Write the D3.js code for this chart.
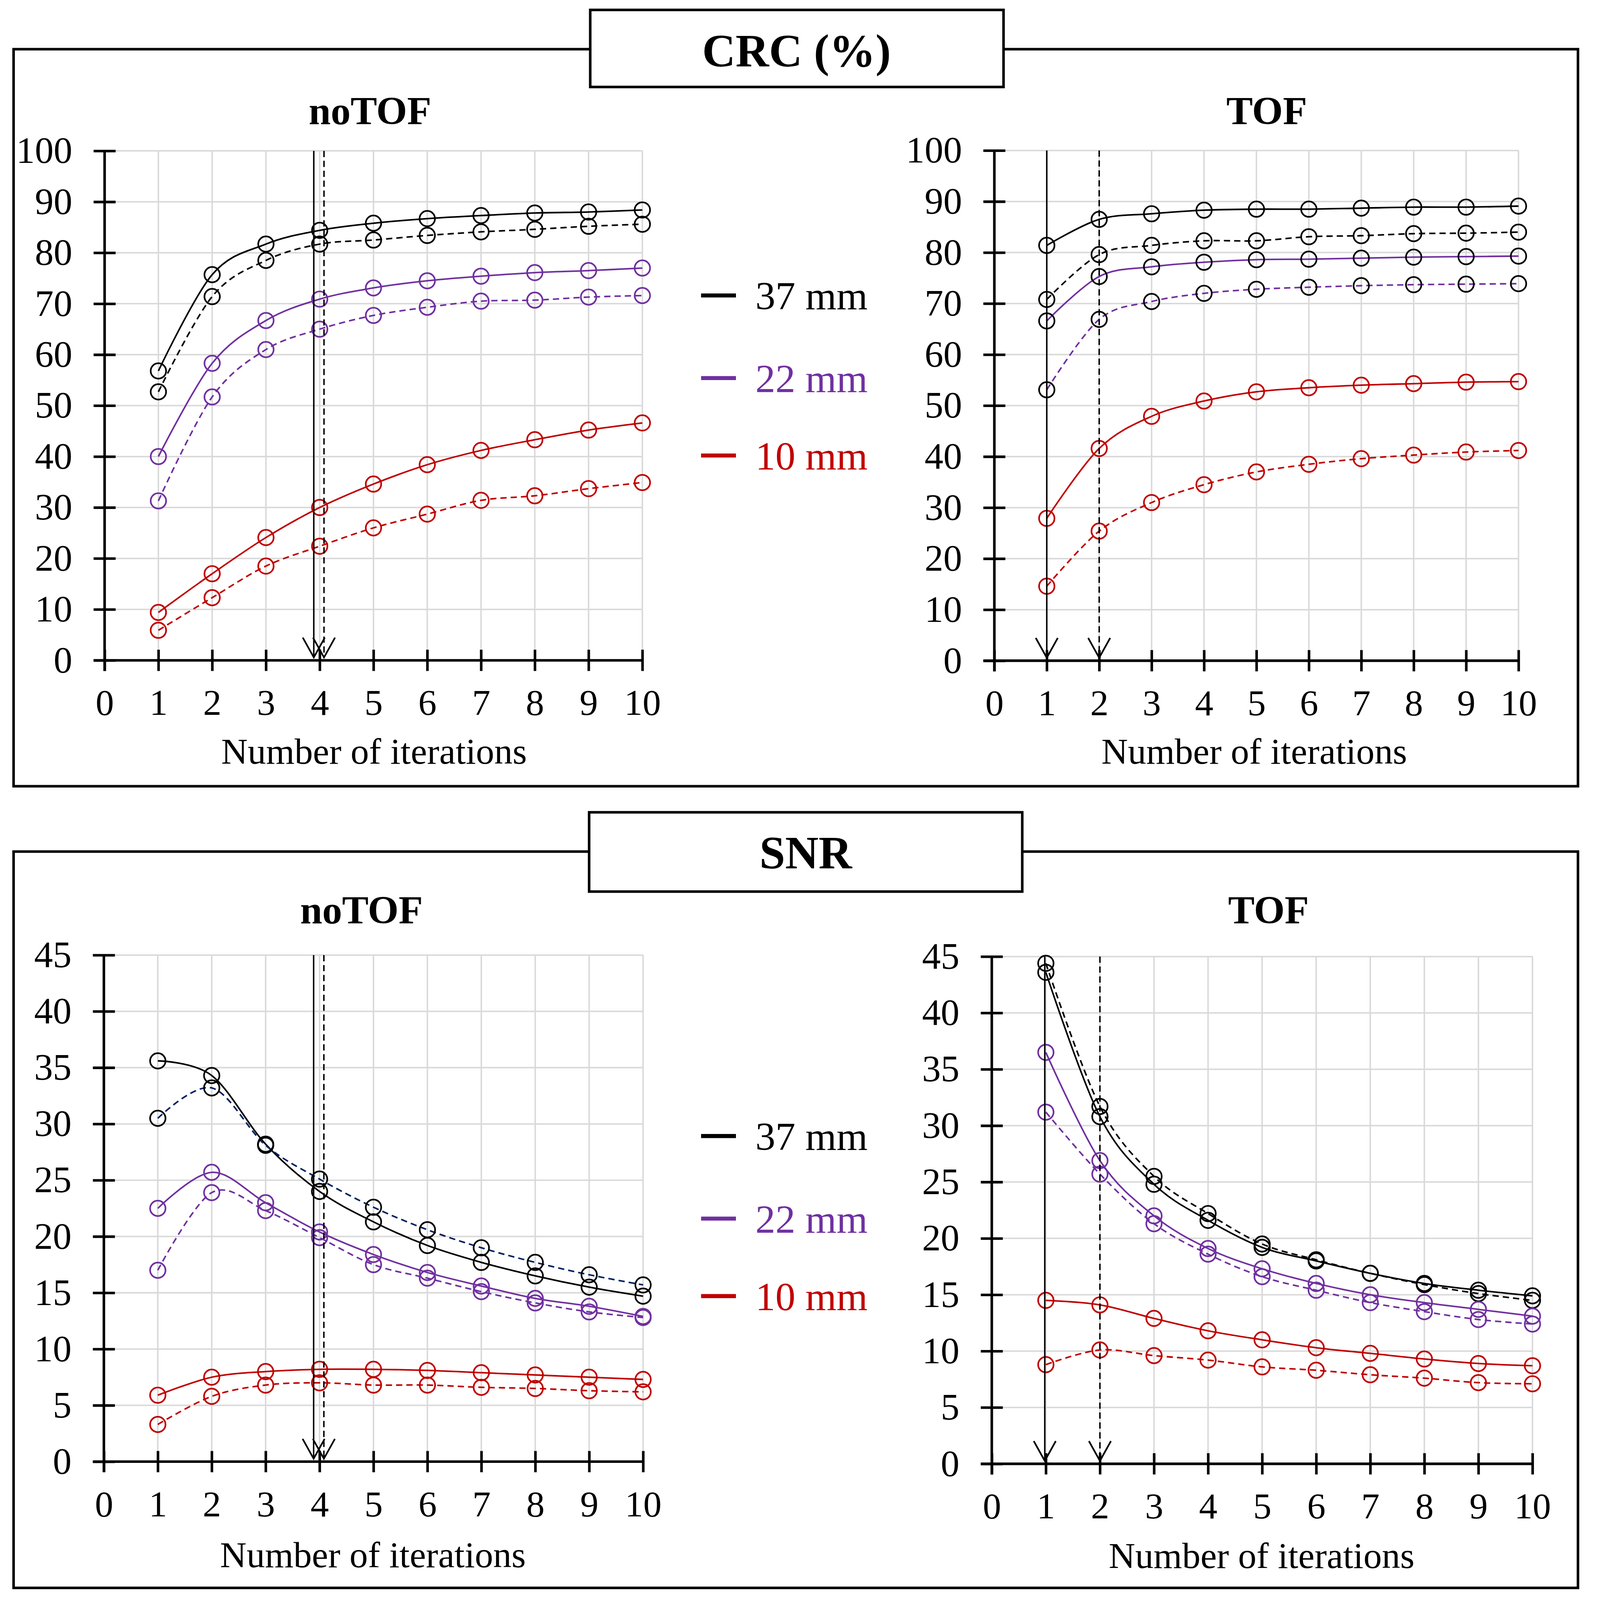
<!DOCTYPE html>
<html>
<head>
<meta charset="utf-8">
<style>
  html, body { margin: 0; padding: 0; background: #fff; overflow: hidden; }
  svg { display: block; width: 100vw; height: 100vh; }
  text { font-family: "Liberation Serif", "Times New Roman", serif; }
</style>
</head>
<body>
<script src="https://d3js.org/d3.v7.min.js"></script>
<script>
  // ---- data ----
  const iterations = [1, 2, 3, 4, 5, 6, 7, 8, 9, 10]
  const xTickValues = [0, 1, 2, 3, 4, 5, 6, 7, 8, 9, 10]
  const crcTickValues = [0, 10, 20, 30, 40, 50, 60, 70, 80, 90, 100]
  const snrTickValues = [0, 5, 10, 15, 20, 25, 30, 35, 40, 45]
  const sizeLabels = ['37 mm', '22 mm', '10 mm']

  // CRC (%) - noTOF (solid / dashed)
  const crcNoTof37 = [56.8, 75.7, 81.7, 84.4, 85.8, 86.7, 87.3, 87.8, 88.0, 88.4]
  const crcNoTof37Dash = [52.7, 71.4, 78.5, 81.7, 82.5, 83.4, 84.1, 84.6, 85.2, 85.6]
  const crcNoTof22 = [40.0, 58.3, 66.7, 70.9, 73.1, 74.5, 75.4, 76.1, 76.5, 77.0]
  const crcNoTof22Dash = [31.3, 51.7, 61.0, 65.0, 67.7, 69.3, 70.5, 70.7, 71.3, 71.6]
  const crcNoTof10 = [9.4, 17.0, 24.1, 30.0, 34.6, 38.4, 41.2, 43.3, 45.2, 46.6]
  const crcNoTof10Dash = [5.9, 12.3, 18.5, 22.4, 26.0, 28.7, 31.4, 32.3, 33.7, 34.9]

  // CRC (%) - TOF
  const crcTof37 = [81.4, 86.5, 87.6, 88.3, 88.5, 88.5, 88.7, 88.9, 88.9, 89.1]
  const crcTof37Dash = [70.8, 79.6, 81.4, 82.3, 82.3, 83.1, 83.3, 83.7, 83.8, 84.0]
  const crcTof22 = [66.6, 75.3, 77.2, 78.1, 78.6, 78.7, 78.9, 79.1, 79.2, 79.3]
  const crcTof22Dash = [53.1, 66.9, 70.4, 72.0, 72.8, 73.2, 73.5, 73.7, 73.8, 73.9]
  const crcTof10 = [27.9, 41.6, 47.9, 50.9, 52.7, 53.5, 54.0, 54.3, 54.6, 54.7]
  const crcTof10Dash = [14.6, 25.4, 31.0, 34.5, 37.0, 38.5, 39.6, 40.3, 40.9, 41.2]

  // SNR - noTOF
  const snrNoTof37 = [35.6, 34.3, 28.2, 24.0, 21.3, 19.2, 17.7, 16.5, 15.5, 14.7]
  const snrNoTof37Dash = [30.5, 33.2, 28.1, 25.1, 22.6, 20.6, 19.0, 17.7, 16.6, 15.7]
  const snrNoTof22 = [22.5, 25.7, 23.0, 20.4, 18.4, 16.8, 15.6, 14.5, 13.8, 12.9]
  const snrNoTof22Dash = [17.0, 23.9, 22.3, 19.9, 17.5, 16.3, 15.1, 14.1, 13.3, 12.8]
  const snrNoTof10 = [5.9, 7.5, 8.0, 8.2, 8.2, 8.1, 7.9, 7.7, 7.5, 7.3]
  const snrNoTof10Dash = [3.3, 5.8, 6.8, 7.0, 6.8, 6.8, 6.6, 6.5, 6.3, 6.2]

  // SNR - TOF
  const snrTof37 = [43.6, 30.8, 24.8, 21.6, 19.2, 18.0, 16.9, 16.0, 15.4, 14.9]
  const snrTof37Dash = [44.4, 31.7, 25.5, 22.2, 19.5, 18.1, 16.9, 15.9, 15.1, 14.5]
  const snrTof22 = [36.5, 26.9, 22.0, 19.1, 17.3, 16.0, 15.0, 14.3, 13.7, 13.1]
  const snrTof22Dash = [31.2, 25.7, 21.3, 18.6, 16.6, 15.4, 14.3, 13.5, 12.8, 12.4]
  const snrTof10 = [14.5, 14.1, 12.9, 11.8, 11.0, 10.3, 9.8, 9.3, 8.9, 8.7]
  const snrTof10Dash = [8.8, 10.1, 9.6, 9.2, 8.6, 8.3, 7.9, 7.6, 7.2, 7.1]

  // chosen iteration markers (solid, dashed)
  const noTofArrows = [3.89, 4.08]
  const tofArrows = [1.0, 2.0]
  const snrTofArrows = [0.98, 2.0]

  // ---- styles ----
  const BLACK = '#000000'
  const PURPLE = '#7030A0'
  const RED = '#C00000'
  const NAVY = '#002060'
  const GRID = '#d9d9d9'
  const DASH = '17,11'

  const svg = d3.select('body').append('svg')
    .attr('viewBox', '0 0 4325 4359')
    .attr('preserveAspectRatio', 'xMinYMin meet')

  // outer frames and title boxes
  function frame(x, y, w, h, fill) {
    svg.append('rect')
      .attr('x', x).attr('y', y).attr('width', w).attr('height', h)
      .attr('fill', fill).attr('stroke', BLACK).attr('stroke-width', 7)
  }
  frame(37, 134, 4262, 2008, 'none')
  frame(37, 2320, 4262, 2006, 'none')
  frame(1608, 27, 1126, 210, '#fff')
  frame(1605, 2213, 1180, 216, '#fff')

  svg.append('text').attr('x', 2170).attr('y', 181)
    .attr('text-anchor', 'middle').attr('font-size', 126).attr('font-weight', 'bold')
    .text('CRC (%)')
  svg.append('text').attr('x', 2195).attr('y', 2366)
    .attr('text-anchor', 'middle').attr('font-size', 126).attr('font-weight', 'bold')
    .text('SNR')

  const panels = [
    {
      xr: [285, 1750], yr: [1799, 411], yMax: 100, yTicks: crcTickValues,
      title: 'noTOF', tx: 1008, ty: 338, lx: 1019, ly: 2080, arrows: noTofArrows,
      series: [
        { v: crcNoTof37, line: BLACK, mark: BLACK },
        { v: crcNoTof37Dash, line: BLACK, mark: BLACK, dash: true },
        { v: crcNoTof22, line: PURPLE, mark: PURPLE },
        { v: crcNoTof22Dash, line: PURPLE, mark: PURPLE, dash: true },
        { v: crcNoTof10, line: RED, mark: RED },
        { v: crcNoTof10Dash, line: RED, mark: RED, dash: true }
      ]
    },
    {
      xr: [2709, 4137], yr: [1800, 410], yMax: 100, yTicks: crcTickValues,
      title: 'TOF', tx: 3451, ty: 338, lx: 3417, ly: 2080, arrows: tofArrows,
      series: [
        { v: crcTof37, line: BLACK, mark: BLACK },
        { v: crcTof37Dash, line: BLACK, mark: BLACK, dash: true },
        { v: crcTof22, line: PURPLE, mark: BLACK },
        { v: crcTof22Dash, line: PURPLE, mark: BLACK, dash: true },
        { v: crcTof10, line: RED, mark: RED },
        { v: crcTof10Dash, line: RED, mark: RED, dash: true }
      ]
    },
    {
      xr: [283, 1752], yr: [3982, 2602], yMax: 45, yTicks: snrTickValues,
      title: 'noTOF', tx: 985, ty: 2516, lx: 1016, ly: 4270, arrows: noTofArrows,
      series: [
        { v: snrNoTof37, line: BLACK, mark: BLACK },
        { v: snrNoTof37Dash, line: NAVY, mark: BLACK, dash: true },
        { v: snrNoTof22, line: PURPLE, mark: PURPLE },
        { v: snrNoTof22Dash, line: PURPLE, mark: PURPLE, dash: true },
        { v: snrNoTof10, line: RED, mark: RED },
        { v: snrNoTof10Dash, line: RED, mark: RED, dash: true }
      ]
    },
    {
      xr: [2702, 4175], yr: [3988, 2606], yMax: 45, yTicks: snrTickValues,
      title: 'TOF', tx: 3456, ty: 2516, lx: 3437, ly: 4272, arrows: snrTofArrows,
      series: [
        { v: snrTof37, line: BLACK, mark: BLACK },
        { v: snrTof37Dash, line: BLACK, mark: BLACK, dash: true },
        { v: snrTof22, line: PURPLE, mark: PURPLE },
        { v: snrTof22Dash, line: PURPLE, mark: PURPLE, dash: true },
        { v: snrTof10, line: RED, mark: RED },
        { v: snrTof10Dash, line: RED, mark: RED, dash: true }
      ]
    }
  ]

  panels.forEach(p => {
    const x = d3.scaleLinear().domain([0, 10]).range(p.xr)
    const y = d3.scaleLinear().domain([0, p.yMax]).range(p.yr)
    const g = svg.append('g')

    // gridlines
    g.append('g').selectAll('line').data(p.yTicks.filter(t => t > 0))
      .enter().append('line')
      .attr('x1', x(0)).attr('x2', x(10))
      .attr('y1', d => y(d)).attr('y2', d => y(d))
      .attr('stroke', GRID).attr('stroke-width', 4)
    g.append('g').selectAll('line').data(iterations)
      .enter().append('line')
      .attr('x1', d => x(d)).attr('x2', d => x(d))
      .attr('y1', y(0)).attr('y2', y(p.yMax))
      .attr('stroke', GRID).attr('stroke-width', 4)

    // axes with crossing ticks
    const yAxis = g.append('g')
      .attr('transform', `translate(${x(0)},0)`)
      .call(d3.axisLeft(y).tickValues(p.yTicks).tickSize(30).tickPadding(58))
    yAxis.select('.domain').remove()
    yAxis.selectAll('.tick line').attr('x1', 30).attr('stroke-width', 7)
    yAxis.selectAll('.tick text').attr('font-size', 102)
      .attr('font-family', '"Liberation Serif", "Times New Roman", serif')
    yAxis.attr('font-family', null).attr('font-size', null)

    const xAxis = g.append('g')
      .attr('transform', `translate(0,${y(0)})`)
      .call(d3.axisBottom(x).tickValues(xTickValues).tickSize(29).tickPadding(49))
    xAxis.select('.domain').remove()
    xAxis.selectAll('.tick line').attr('y1', -29).attr('stroke-width', 7)
    xAxis.selectAll('.tick text').attr('font-size', 100)
      .attr('font-family', '"Liberation Serif", "Times New Roman", serif')
    xAxis.attr('font-family', null).attr('font-size', null)

    g.append('line')
      .attr('x1', x(0)).attr('x2', x(0))
      .attr('y1', y(p.yMax)).attr('y2', y(0) + 29)
      .attr('stroke', BLACK).attr('stroke-width', 7)
    g.append('line')
      .attr('x1', x(0) - 30).attr('x2', x(10))
      .attr('y1', y(0)).attr('y2', y(0))
      .attr('stroke', BLACK).attr('stroke-width', 7)

    // series
    const line = d3.line()
      .x((d, i) => x(iterations[i]))
      .y(d => y(d))
      .curve(d3.curveCardinal.tension(0))

    p.series.forEach(s => {
      g.append('path')
        .attr('d', line(s.v))
        .attr('fill', 'none')
        .attr('stroke', s.line)
        .attr('stroke-width', 4.3)
        .attr('stroke-dasharray', s.dash ? DASH : null)
    })
    p.series.forEach(s => {
      g.append('g').selectAll('circle').data(s.v)
        .enter().append('circle')
        .attr('cx', (d, i) => x(iterations[i]))
        .attr('cy', d => y(d))
        .attr('r', 21)
        .attr('fill', 'none')
        .attr('stroke', s.mark)
        .attr('stroke-width', 4.5)
    })

    // chosen iteration arrows
    p.arrows.forEach((a, i) => {
      const ax = x(a)
      const tip = y(0) - 8
      g.append('line')
        .attr('x1', ax).attr('x2', ax)
        .attr('y1', y(p.yMax)).attr('y2', tip)
        .attr('stroke', BLACK).attr('stroke-width', 4)
        .attr('stroke-dasharray', i === 1 ? '17,10' : null)
      g.append('path')
        .attr('d', `M${ax - 30},${tip - 54}L${ax},${tip}L${ax + 30},${tip - 54}`)
        .attr('fill', 'none').attr('stroke', BLACK).attr('stroke-width', 4.5)
    })

    // titles
    g.append('text').attr('x', p.tx).attr('y', p.ty)
      .attr('text-anchor', 'middle').attr('font-size', 108).attr('font-weight', 'bold')
      .text(p.title)
    g.append('text').attr('x', p.lx).attr('y', p.ly)
      .attr('text-anchor', 'middle').attr('font-size', 100)
      .text('Number of iterations')
  })

  // legends
  const legendColors = [BLACK, PURPLE, RED]
  const legendRows = [[805, 1030, 1241], [3095, 3320, 3531]]
  legendRows.forEach(rows => {
    const lg = svg.append('g')
    sizeLabels.forEach((label, i) => {
      lg.append('line')
        .attr('x1', 1910).attr('x2', 2005)
        .attr('y1', rows[i]).attr('y2', rows[i])
        .attr('stroke', legendColors[i]).attr('stroke-width', 11)
      lg.append('text')
        .attr('x', 2058).attr('y', rows[i]).attr('dy', '0.35em')
        .attr('font-size', 109).attr('fill', legendColors[i])
        .text(label)
    })
  })
</script>
</body>
</html>
